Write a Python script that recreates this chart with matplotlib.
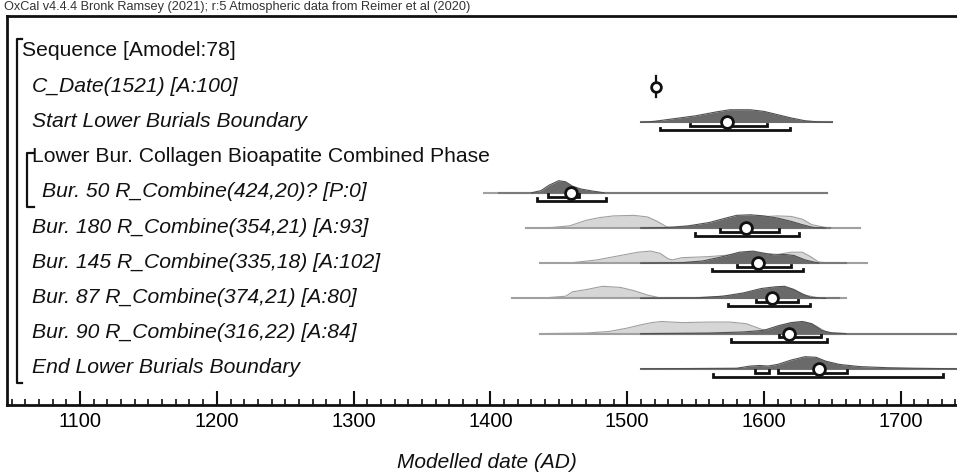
import matplotlib
matplotlib.use("Agg")
import matplotlib.pyplot as plt

plt.rcParams["font.family"] = ["Liberation Sans", "DejaVu Sans"]

HEADER = "OxCal v4.4.4 Bronk Ramsey (2021); r:5 Atmospheric data from Reimer et al (2020)"
XLABEL = "Modelled date (AD)"
TICKS = [1100, 1200, 1300, 1400, 1500, 1600, 1700]

# row labels (text, indent level, italic)
labels = [
    "Sequence [Amodel:78]",
    "C_Date(1521) [A:100]",
    "Start Lower Burials Boundary",
    "Lower Bur. Collagen Bioapatite Combined Phase",
    "Bur. 50 R_Combine(424,20)? [P:0]",
    "Bur. 180 R_Combine(354,21) [A:93]",
    "Bur. 145 R_Combine(335,18) [A:102]",
    "Bur. 87 R_Combine(374,21) [A:80]",
    "Bur. 90 R_Combine(316,22) [A:84]",
    "End Lower Burials Boundary",
]
indent = [0, 1, 1, 1, 2, 1, 1, 1, 1, 1]
italic = [False, True, True, False, True, True, True, True, True, True]

c_date = 1521

# modelled (dark) distributions: year knots, relative heights
start_x = [1510, 1520, 1535, 1550, 1565, 1575, 1590, 1600, 1610, 1620, 1630, 1640, 1650]
start_y = [0, 1, 3.5, 6, 9.5, 11.5, 11.5, 10, 7, 4, 1.5, 0.4, 0]
b50_x = [1430, 1437, 1443, 1450, 1455, 1460, 1466, 1475, 1483]
b50_y = [0, 2, 7, 11, 10, 6, 3.5, 1.5, 0]
b180_x = [1510, 1530, 1545, 1560, 1572, 1580, 1590, 1600, 1610, 1620, 1628, 1636, 1645]
b180_y = [0, 0.5, 2, 5, 9, 11.5, 12, 11, 9, 6, 3, 0.5, 0]
b145_x = [1510, 1540, 1555, 1570, 1582, 1592, 1600, 1607, 1615, 1622, 1630, 1640]
b145_y = [0, 0.5, 2, 6, 10, 11, 9, 7.5, 8, 7, 3, 0]
b87_x = [1510, 1550, 1570, 1585, 1598, 1608, 1615, 1622, 1628, 1634, 1645]
b87_y = [0, 0.5, 2, 5, 9, 10.5, 11, 8, 4, 1, 0]
b90_x = [1510, 1560, 1585, 1600, 1610, 1620, 1628, 1635, 1642, 1650, 1660]
b90_y = [0, 0.5, 1.5, 3, 7, 10, 11, 9, 3, 0.5, 0]
end_x = [1510, 1580, 1590, 1597, 1603, 1610, 1620, 1630, 1638, 1645, 1655, 1670, 1690, 1710, 1730, 1741]
end_y = [0, 0.5, 2.5, 3, 2.5, 4, 8, 11, 10.5, 7, 4, 2, 1, 0.5, 0.2, 0]

# unmodelled (light) likelihoods
l180_x = [1426, 1445, 1458, 1470, 1480, 1490, 1505, 1515, 1522, 1529, 1535, 1560, 1580, 1595, 1610, 1620, 1628, 1635, 1645, 1670]
l180_y = [0, 0.5, 2, 7, 9.5, 11, 11.5, 10, 6, 1, 0.3, 3, 8, 10, 11, 10.5, 8, 3, 0.5, 0]
l145_x = [1436, 1460, 1478, 1495, 1508, 1517, 1524, 1530, 1533, 1540, 1560, 1575, 1590, 1600, 1610, 1620, 1628, 1634, 1640, 1650, 1675]
l145_y = [0, 0.5, 3, 7, 10, 11, 9, 4, 3, 5, 6, 7.5, 10.5, 9, 8, 10, 10, 6, 1, 0, 0]
l87_x = [1416, 1440, 1455, 1460, 1470, 1482, 1495, 1505, 1515, 1524, 1540, 1560, 1580, 1595, 1610, 1620, 1630, 1640, 1660]
l87_y = [0, 0.5, 2, 6, 8, 11, 10, 7, 3, 0.5, 0.5, 1, 3, 7, 10, 9, 3, 0.5, 0]
l90_x = [1436, 1470, 1487, 1500, 1510, 1518, 1525, 1540, 1560, 1575, 1587, 1598, 1604, 1612, 1620, 1630, 1638, 1646, 1660, 1745]
l90_y = [0, 0.5, 2, 5, 8, 10, 11, 10, 10.5, 10.5, 9, 4, 3, 7, 10, 10.5, 7, 1, 0, 0]

# baselines (year range) per row
base_dark = {2: (1510, 1650), 4: (1406, 1646), 5: (1510, 1648), 6: (1510, 1660),
             7: (1510, 1655), 8: (1510, 1745), 9: (1510, 1745)}
base_light = {4: (1395, 1646), 5: (1426, 1670), 6: (1436, 1675), 7: (1416, 1660), 8: (1436, 1745)}

dark = {2: (start_x, start_y), 4: (b50_x, b50_y), 5: (b180_x, b180_y), 6: (b145_x, b145_y),
        7: (b87_x, b87_y), 8: (b90_x, b90_y), 9: (end_x, end_y)}
light = {5: (l180_x, l180_y), 6: (l145_x, l145_y), 7: (l87_x, l87_y), 8: (l90_x, l90_y)}

# medians, 68% and 95% ranges
median = {2: 1573, 4: 1459, 5: 1586.5, 6: 1595.5, 7: 1606, 8: 1618, 9: 1640}
r68 = {2: [(1546, 1602)], 4: [(1442, 1465)], 5: [(1568, 1611)], 6: [(1580, 1620)],
       7: [(1594.5, 1625)], 8: [(1611, 1641.5)], 9: [(1593.5, 1603.5), (1610, 1660.5)]}
r95 = {2: [(1524, 1619)], 4: [(1434, 1484.5)], 5: [(1549.5, 1625.5)], 6: [(1562, 1628.5)],
       7: [(1573.5, 1633.5)], 8: [(1576, 1646)], 9: [(1562.5, 1730.5)]}

W, H = 957, 473
fig = plt.figure(figsize=(W / 100, H / 100), dpi=100)

# main axes in pixel-y units, data-x in years
left, top, bottom = 7, 16, 405
ax = fig.add_axes([left / W, 1 - bottom / H, 1 - left / W + 0.01, (bottom - top) / H])
ax.set_xlim(1046.6, 1741.1 + 0.01 * W / 1.368)
ax.set_ylim(bottom, top)

row_y = [52 + 35.2 * i for i in range(len(labels))]
amp = 1.1  # peak scale in pixels

for i, (lx, ly) in light.items():
    y0 = row_y[i]
    ax.fill_between(lx, [y0] * len(lx), [y0 - amp * v for v in ly], color="#d6d6d6", lw=0, zorder=1)
    ax.plot(lx, [y0 - amp * v for v in ly], color="#a0a0a0", lw=0.8, zorder=1.5)
for i, (a, b) in base_light.items():
    ax.plot([a, b], [row_y[i]] * 2, color="#a0a0a0", lw=1.5, zorder=2)
for i, (a, b) in base_dark.items():
    ax.plot([a, b], [row_y[i]] * 2, color="#7a7a7a", lw=1.5, zorder=2.5)
for i, (dx, dy) in dark.items():
    y0 = row_y[i]
    ax.fill_between(dx, [y0] * len(dx), [y0 - amp * v for v in dy], color="#6a6a6a", lw=0, zorder=3)
    ax.plot(dx, [y0 - amp * v for v in dy], color="#505050", lw=0.8, zorder=3.5)

def range_bar(a, b, y):
    ax.plot([a, a, b, b], [y - 2.5, y, y, y - 2.5], color="#111111", lw=2,
            solid_joinstyle="miter", zorder=4)

for i, segs in r68.items():
    for a, b in segs:
        range_bar(a, b, row_y[i] + 3.8)
for i, segs in r95.items():
    for a, b in segs:
        range_bar(a, b, row_y[i] + 8)
for i, m in median.items():
    ax.plot(m, row_y[i], "o", ms=8.5, mfc="white", mec="#111111", mew=2, zorder=5)

# C_Date marker
yc = row_y[1]
ax.plot([c_date, c_date], [yc - 11, yc + 10], color="#111111", lw=1.6, zorder=4)
ax.plot(c_date, yc, "o", ms=7, mfc="white", mec="#111111", mew=2, zorder=5)

ax.set_yticks([])
ax.set_xticks(TICKS)
ax.set_xticks(range(1050, 1750, 10), minor=True)
ax.tick_params(axis="x", which="major", direction="in", length=10, width=1.5,
               labelsize=14.5, pad=5, color="#111111")
ax.tick_params(axis="x", which="minor", direction="in", length=4, width=1.2, color="#111111")
ax.spines["right"].set_visible(False)
for s in ("left", "top", "bottom"):
    ax.spines[s].set_linewidth(2)
    ax.spines[s].set_color("#111111")

# overlay in pixel coordinates for text and brackets
ov = fig.add_axes([0, 0, 1, 1])
ov.set_xlim(0, W)
ov.set_ylim(H, 0)
ov.axis("off")

ov.text(4, 7, HEADER, fontsize=9.2, color="#333333", va="center", ha="left")
ov.text(487, 462, XLABEL, fontsize=15, style="italic", color="#111111", ha="center", va="center")

xs = [22, 32, 42]
for i, t in enumerate(labels):
    ov.text(xs[indent[i]], row_y[i] - 1, t, fontsize=15.2, ha="left", va="center",
            style="italic" if italic[i] else "normal", color="#111111")

# sequence bracket
ov.plot([22, 17, 17, 22], [39, 39, 383, 383], color="#111111", lw=1.6)
# phase bracket
ov.plot([34, 27, 27, 34], [153, 153, 207, 207], color="#111111", lw=1.6)

fig.savefig("out.png", dpi=100)
